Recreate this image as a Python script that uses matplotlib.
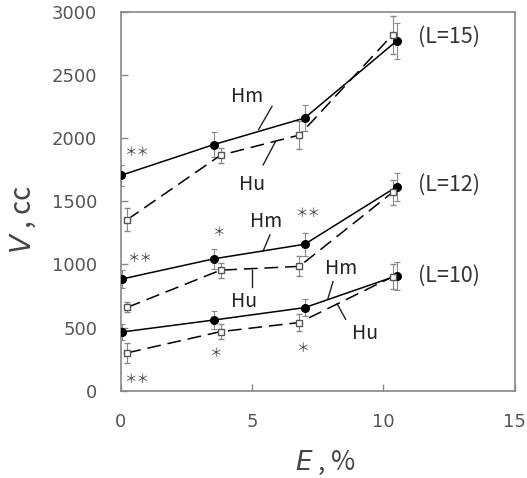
import matplotlib
matplotlib.use("Agg")
import matplotlib.pyplot as plt

plt.rcParams['font.family'] = ['Noto Sans CJK JP', 'DejaVu Sans']

# Data
hm_x = {15: [0.0, 3.55, 7.0, 10.5], 12: [0.05, 3.55, 7.0, 10.5], 10: [0.05, 3.55, 7.0, 10.5]}
hm_y = {15: [1705, 1950, 2160, 2770], 12: [885, 1045, 1160, 1615], 10: [465, 560, 658, 910]}
hm_err = {15: [80, 100, 100, 140], 12: [70, 80, 90, 110], 10: [60, 70, 70, 110]}
hu_x = {15: [0.25, 3.8, 6.8, 10.35], 12: [0.25, 3.8, 6.8, 10.35], 10: [0.25, 3.8, 6.8, 10.35]}
hu_y = {15: [1355, 1865, 2025, 2820], 12: [660, 955, 985, 1572], 10: [300, 468, 540, 903]}
hu_err = {15: [90, 60, 110, 150], 12: [40, 60, 80, 100], 10: [80, 60, 70, 100]}

stars = [(0.6, 1890, '＊＊'), (0.7, 1045, '＊＊'), (3.7, 1255, '＊'), (7.1, 1405, '＊＊'),
         (3.6, 295, '＊'), (6.9, 335, '＊'), (0.6, 92, '＊＊')]
group_labels = [(11.3, 2800, '(L=15)'), (11.3, 1632, '(L=12)'), (11.3, 912, '(L=10)')]

fig = plt.figure(figsize=(5.27, 4.78), dpi=100)
ax = fig.add_axes([0.229, 0.1826, 0.748, 0.7924])

for L in (15, 12, 10):
    ax.errorbar(hm_x[L], hm_y[L], yerr=hm_err[L], color='black', lw=1.1,
                marker='o', ms=5.5, mfc='black', mec='black',
                ecolor='#888888', elinewidth=0.8, capsize=2.5, capthick=0.8, zorder=3)
    ax.errorbar(hu_x[L], hu_y[L], yerr=hu_err[L], color='black', lw=1.1,
                linestyle=(0, (9, 4.5)),
                marker='s', ms=5, mfc='white', mec='#555555', mew=1.0,
                ecolor='#888888', elinewidth=0.8, capsize=2.5, capthick=0.8, zorder=3)

# Series labels with leader lines
ann = [
    ('Hm', 4.8, 2330, (5.76, 2253), (5.25, 2069)),
    ('Hu', 5.0, 1630, (5.89, 1973), (5.42, 1788)),
    ('Hm', 5.55, 1340, (5.68, 1234), (5.42, 1107)),
    ('Hu', 4.7, 705, (5.0, 955), (5.0, 822)),
    ('Hm', 8.4, 970, (8.08, 864), (7.89, 732)),
    ('Hu', 9.3, 450, (8.56, 566), (8.24, 687)),
]
for txt, tx, ty, p1, p2 in ann:
    ax.text(tx, ty, txt, ha='center', va='center', fontsize=14, color='#222222')
    ax.plot([p1[0], p2[0]], [p1[1], p2[1]], color='#222222', lw=1.0)

for x, y, s in stars:
    ax.text(x, y, s, ha='center', va='center', fontsize=9, color='#444444')
for x, y, s in group_labels:
    ax.text(x, y, s, ha='left', va='center', fontsize=15.5, color='#333333')

ax.set_xlim(0, 15)
ax.set_ylim(0, 3000)
ax.set_xticks([0, 5, 10, 15])
ax.set_yticks(range(0, 3001, 500))
ax.tick_params(direction='in', length=5, colors='#888888', labelcolor='#555555',
               labelsize=13, width=1, top=False, right=False)
ax.tick_params(axis='x', pad=16)
ax.tick_params(axis='y', pad=17)
for lab in ax.get_xticklabels() + ax.get_yticklabels():
    lab.set_fontfamily('DejaVu Sans')
for sp in ax.spines.values():
    sp.set_color('#888888')
    sp.set_linewidth(1.2)

fig.text(0.617, 0.031, r'$\mathit{E}$ , %', fontsize=19, color='#444444',
         ha='center', va='center')
fig.text(0.044, 0.54, r'$\mathit{V}$ , cc', fontsize=20, color='#444444',
         ha='center', va='center', rotation=90)

fig.savefig('out.png', dpi=100)
